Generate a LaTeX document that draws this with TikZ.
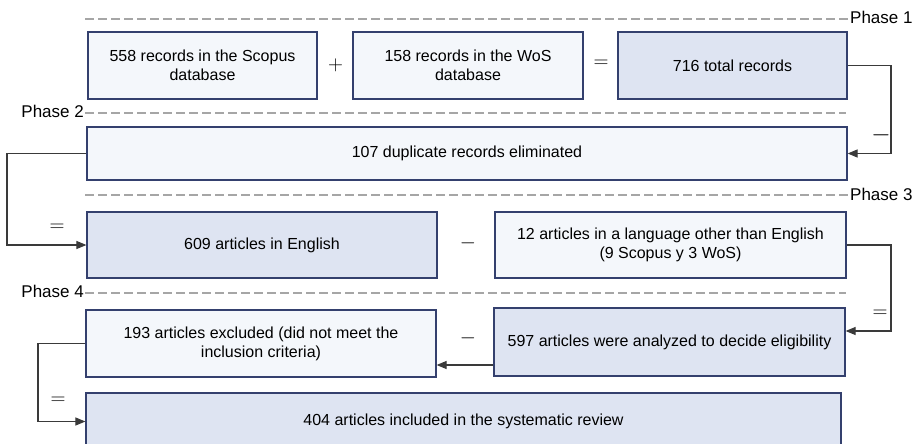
\documentclass[tikz,border=0pt]{standalone}
\usepackage{fontspec}
\setmainfont{Liberation Sans}
\usetikzlibrary{arrows.meta,calc}

\definecolor{boxline}{HTML}{34406E}
\definecolor{fillpale}{HTML}{F4F7FB}
\definecolor{filldeep}{HTML}{DEE4F2}
\definecolor{wire}{HTML}{3A3A3A}
\definecolor{dashgray}{HTML}{A6A6A6}

\tikzset{
  flowbox/.style={draw=boxline, line width=1.2pt, fill=fillpale, align=center,
    inner sep=0pt, font=\fontsize{16}{19.2}\selectfont, text=black},
  keybox/.style={flowbox, fill=filldeep},
  wireline/.style={draw=wire, line width=1.1pt},
  arrowline/.style={wireline, -{Triangle[length=10pt,width=8pt]}},
  phaseline/.style={draw=dashgray, line width=1.4pt, dash pattern=on 9pt off 4pt},
  phaselabel/.style={font=\fontsize{17}{20}\selectfont, inner sep=0pt, text=black},
  opsign/.style={inner sep=0pt, font=\fontsize{21}{21}\selectfont, text=black},
  widesign/.style={opsign, font=\fontsize{25}{25}\selectfont},
}

\begin{document}
\begin{tikzpicture}[x=1pt,y=-1pt]
\useasboundingbox (0,0) rectangle (919,444);
\clip (0,0) rectangle (919,444);

% phase separators
\draw[phaseline] (85,19) -- (849,19);
\node[phaselabel, anchor=west] (p1) at (850,17) {Phase 1};
\draw[phaseline] (85,113) -- (846,113);
\node[phaselabel, anchor=east] (p2) at (84,111) {Phase 2};
\draw[phaseline] (85,195) -- (849,195);
\node[phaselabel, anchor=west] (p3) at (850,194) {Phase 3};
\draw[phaseline] (85,293) -- (846,293);
\node[phaselabel, anchor=east] (p4) at (84,291) {Phase 4};

% phase 1
\node[flowbox, minimum width=229pt, minimum height=67pt] (scopus) at (202.5,65.5)
  {558 records in the Scopus\\database};
\node[flowbox, minimum width=230pt, minimum height=67pt] (wos) at (468,65.5)
  {158 records in the WoS\\database};
\node[keybox, minimum width=229pt, minimum height=67pt] (total) at (732.5,65.5)
  {716 total records};
\node[opsign] (plus) at (335.5,65) {$+$};
\node[opsign] (eq1) at (601,64) {$=$};

% phase 2
\node[flowbox, minimum width=760pt, minimum height=53pt] (dup) at (467,153.5)
  {107 duplicate records eliminated};

% phase 3
\node[keybox, minimum width=350pt, minimum height=66pt] (eng) at (262,245)
  {609 articles in English};
\node[flowbox, minimum width=351pt, minimum height=66pt] (other) at (670.5,245)
  {12 articles in a language other than English\\(9 Scopus y 3 WoS)};
\node[opsign] (minus1) at (468,243) {$-$};

% phase 4
\node[flowbox, minimum width=350pt, minimum height=67pt] (excl) at (261,343.5)
  {193 articles excluded (did not meet the\\inclusion criteria)};
\node[keybox, minimum width=351pt, minimum height=68pt] (elig) at (669.5,342)
  {597 articles were analyzed to decide eligibility};
\node[opsign] (minus2) at (468,338) {$-$};
\node[keybox, minimum width=755pt, minimum height=57pt] (incl) at (463.5,421.5)
  {404 articles included in the systematic review};

% connectors
\coordinate (rt) at (891,0);
\coordinate (lt1) at (7,0);
\coordinate (lt2) at (38,0);
\draw[arrowline] (total.east) -- (total.east -| rt) -- (dup.east -| rt) -- (dup.east);
\node[widesign] (minus3) at (881,135) {$-$};

\draw[arrowline] (dup.west) -- (dup.west -| lt1) -- (eng.west -| lt1) -- (eng.west);
\node[opsign] (eq2) at (57,228) {$=$};

\coordinate (eligin) at ($(elig.east)+(0,-11)$);
\draw[arrowline] (other.east) -- (other.east -| rt) -- (eligin -| rt) -- (eligin);
\node[opsign] (eq3) at (880,314) {$=$};

\coordinate (cut) at (0,365);
\draw[arrowline] (elig.west |- cut) -- (excl.east |- cut);

\draw[arrowline] (excl.west) -- (excl.west -| lt2) -- (incl.west -| lt2) -- (incl.west);
\node[opsign] (eq4) at (58,401) {$=$};
\end{tikzpicture}
\end{document}
